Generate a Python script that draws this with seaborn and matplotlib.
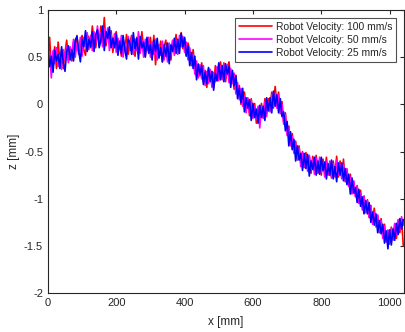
import numpy as np
import pandas as pd
import matplotlib
matplotlib.use("Agg")
import matplotlib.pyplot as plt
import seaborn as sns

# sampling positions along the scan [mm]
x_mm = np.arange(0, 1041, 5)

# surface height, one value per 5 mm
z_100 = [0.45, 0.71, 0.40, 0.50, 0.61, 0.38, 0.66, 0.46, 0.58, 0.38,
         0.55, 0.68, 0.46, 0.56, 0.46, 0.66, 0.56, 0.73, 0.53, 0.65,
         0.73, 0.58, 0.52, 0.73, 0.71, 0.60, 0.83, 0.67, 0.60, 0.77,
         0.66, 0.83, 0.65, 0.92, 0.62, 0.77, 0.67, 0.78, 0.55, 0.71,
         0.77, 0.57, 0.64, 0.51, 0.70, 0.57, 0.74, 0.53, 0.66, 0.73,
         0.58, 0.51, 0.71, 0.67, 0.55, 0.77, 0.60, 0.51, 0.67, 0.56,
         0.71, 0.52, 0.73, 0.42, 0.65, 0.55, 0.67, 0.45, 0.61, 0.68,
         0.49, 0.58, 0.47, 0.67, 0.56, 0.74, 0.54, 0.68, 0.76, 0.59,
         0.70, 0.52, 0.65, 0.57, 0.41, 0.58, 0.40, 0.30, 0.43, 0.30,
         0.44, 0.24, 0.36, 0.18, 0.38, 0.26, 0.34, 0.18, 0.41, 0.25,
         0.37, 0.45, 0.29, 0.44, 0.24, 0.39, 0.45, 0.27, 0.32, 0.16,
         0.31, 0.13, 0.20, 0.00, 0.12, 0.13, -0.05, 0.06, -0.12, 0.06,
         -0.10, 0.01, -0.20, -0.04, -0.14, 0.01, -0.14, 0.06, -0.09, 0.06,
         -0.05, 0.13, -0.04, 0.19, 0.01, 0.13, -0.06, 0.03, -0.19, -0.09,
         -0.30, -0.23, -0.43, -0.31, -0.49, -0.39, -0.59, -0.44, -0.61, -0.50,
         -0.67, -0.51, -0.66, -0.55, -0.73, -0.55, -0.70, -0.54, -0.72, -0.59,
         -0.75, -0.58, -0.72, -0.56, -0.75, -0.62, -0.78, -0.60, -0.75, -0.55,
         -0.77, -0.60, -0.77, -0.58, -0.82, -0.69, -0.86, -0.74, -0.94, -0.82,
         -0.97, -0.86, -1.04, -0.91, -1.09, -0.97, -1.13, -1.01, -1.20, -1.07,
         -1.24, -1.10, -1.28, -1.18, -1.36, -1.21, -1.39, -1.27, -1.45, -1.34,
         -1.48, -1.30, -1.43, -1.27, -1.42, -1.23, -1.36, -1.21, -1.50]

z_50 = [0.40, 0.55, 0.28, 0.57, 0.43, 0.60, 0.40, 0.52, 0.37, 0.58,
        0.47, 0.62, 0.44, 0.61, 0.52, 0.69, 0.50, 0.65, 0.55, 0.71,
        0.51, 0.71, 0.61, 0.76, 0.58, 0.73, 0.57, 0.77, 0.65, 0.83,
        0.62, 0.76, 0.61, 0.80, 0.66, 0.81, 0.57, 0.74, 0.60, 0.75,
        0.55, 0.70, 0.58, 0.73, 0.50, 0.65, 0.54, 0.72, 0.57, 0.71,
        0.53, 0.69, 0.57, 0.77, 0.54, 0.68, 0.50, 0.69, 0.57, 0.71,
        0.50, 0.66, 0.53, 0.69, 0.47, 0.63, 0.52, 0.67, 0.47, 0.60,
        0.45, 0.65, 0.53, 0.68, 0.52, 0.68, 0.53, 0.73, 0.61, 0.72,
        0.55, 0.66, 0.47, 0.60, 0.44, 0.53, 0.32, 0.46, 0.28, 0.42,
        0.27, 0.41, 0.20, 0.35, 0.22, 0.37, 0.18, 0.34, 0.24, 0.40,
        0.25, 0.41, 0.26, 0.43, 0.29, 0.42, 0.23, 0.38, 0.22, 0.33,
        0.11, 0.23, 0.05, 0.17, -0.02, 0.09, -0.09, 0.07, -0.09, 0.04,
        -0.15, -0.02, -0.16, -0.02, -0.25, -0.02, -0.15, 0.03, -0.13, 0.03,
        -0.08, 0.10, -0.02, 0.12, -0.04, 0.10, -0.10, 0.00, -0.21, -0.11,
        -0.33, -0.24, -0.44, -0.34, -0.52, -0.41, -0.58, -0.46, -0.66, -0.51,
        -0.66, -0.55, -0.71, -0.54, -0.69, -0.58, -0.74, -0.57, -0.73, -0.56,
        -0.72, -0.61, -0.77, -0.60, -0.74, -0.60, -0.77, -0.63, -0.77, -0.59,
        -0.75, -0.63, -0.79, -0.64, -0.81, -0.68, -0.87, -0.77, -0.95, -0.81,
        -0.98, -0.87, -1.05, -0.94, -1.12, -0.98, -1.15, -1.02, -1.19, -1.08,
        -1.27, -1.14, -1.30, -1.17, -1.34, -1.23, -1.42, -1.29, -1.46, -1.33,
        -1.46, -1.31, -1.44, -1.26, -1.38, -1.22, -1.33, -1.19, -1.28]

z_25 = [0.57, 0.40, 0.51, 0.34, 0.57, 0.46, 0.53, 0.38, 0.61, 0.44,
        0.35, 0.56, 0.62, 0.47, 0.58, 0.46, 0.68, 0.72, 0.57, 0.45,
        0.69, 0.61, 0.78, 0.56, 0.69, 0.61, 0.77, 0.56, 0.74, 0.79,
        0.60, 0.68, 0.83, 0.57, 0.77, 0.70, 0.82, 0.60, 0.70, 0.60,
        0.74, 0.52, 0.67, 0.54, 0.73, 0.58, 0.48, 0.69, 0.65, 0.53,
        0.76, 0.59, 0.70, 0.48, 0.72, 0.60, 0.66, 0.50, 0.71, 0.54,
        0.63, 0.47, 0.68, 0.56, 0.70, 0.49, 0.60, 0.45, 0.63, 0.51,
        0.65, 0.43, 0.63, 0.56, 0.70, 0.54, 0.69, 0.54, 0.75, 0.61,
        0.71, 0.51, 0.62, 0.41, 0.55, 0.38, 0.51, 0.26, 0.42, 0.32,
        0.41, 0.21, 0.34, 0.22, 0.39, 0.24, 0.35, 0.15, 0.33, 0.25,
        0.44, 0.26, 0.41, 0.24, 0.43, 0.32, 0.40, 0.18, 0.36, 0.20,
        0.30, 0.06, 0.17, 0.02, 0.17, -0.08, 0.07, -0.04, 0.05, -0.17,
        0.01, -0.14, -0.05, -0.20, -0.01, -0.14, -0.02, -0.17, 0.07, -0.07,
        0.07, -0.09, 0.14, -0.02, 0.10, -0.09, 0.06, -0.13, -0.08, -0.28,
        -0.18, -0.44, -0.29, -0.48, -0.37, -0.60, -0.44, -0.59, -0.52, -0.70,
        -0.52, -0.68, -0.53, -0.76, -0.60, -0.69, -0.56, -0.75, -0.60, -0.74,
        -0.56, -0.70, -0.61, -0.79, -0.63, -0.75, -0.59, -0.79, -0.66, -0.82,
        -0.62, -0.75, -0.62, -0.81, -0.68, -0.85, -0.74, -0.95, -0.78, -0.94,
        -0.88, -1.04, -0.90, -1.08, -0.98, -1.16, -1.02, -1.16, -1.04, -1.25,
        -1.14, -1.28, -1.16, -1.36, -1.23, -1.37, -1.27, -1.47, -1.34, -1.53,
        -1.33, -1.49, -1.32, -1.44, -1.26, -1.38, -1.21, -1.32, -1.22]

labels = ["Robot Velocity: 100 mm/s", "Robot Velcoity: 50 mm/s", "Robot Velocity: 25 mm/s"]
colors = ["#ff0000", "#ff00ff", "#0000ff"]

df = pd.concat([
    pd.DataFrame({"x": x_mm, "z": z, "run": lab})
    for z, lab in zip([z_100, z_50, z_25], labels)
])

sns.set_style("white")
plt.rcParams["font.family"] = ["Liberation Sans", "DejaVu Sans"]

fig = plt.figure(figsize=(4.06, 3.32), dpi=100)
ax = fig.add_axes([0.118, 0.117, 0.877, 0.853])

sns.lineplot(data=df, x="x", y="z", hue="run", hue_order=labels,
             palette=colors, estimator=None, sort=False, linewidth=1.2, ax=ax)

ax.set_xlim(0, 1042)
ax.set_ylim(-2, 1)
ax.set_xticks([0, 200, 400, 600, 800, 1000])
ax.set_yticks([-2, -1.5, -1, -0.5, 0, 0.5, 1])
ax.set_yticklabels(["-2", "-1.5", "-1", "-0.5", "0", "0.5", "1"])
ax.tick_params(direction="in", length=3, width=0.8, labelsize=8,
               colors="#262626", top=True, right=True)
ax.set_xlabel("x [mm]", fontsize=8.5, color="#262626", labelpad=6)
ax.set_ylabel("z [mm]", fontsize=8.5, color="#262626", labelpad=3)
for s in ax.spines.values():
    s.set_color("#262626")
    s.set_linewidth(0.8)

leg = ax.legend(loc="upper right", fontsize=7.4, frameon=True, fancybox=False,
                handlelength=3.2, borderaxespad=0.8, borderpad=0.35,
                labelspacing=0.3, handletextpad=0.4)
leg.get_frame().set_edgecolor("#262626")
leg.get_frame().set_linewidth(0.8)

fig.savefig("out.png", dpi=100)
